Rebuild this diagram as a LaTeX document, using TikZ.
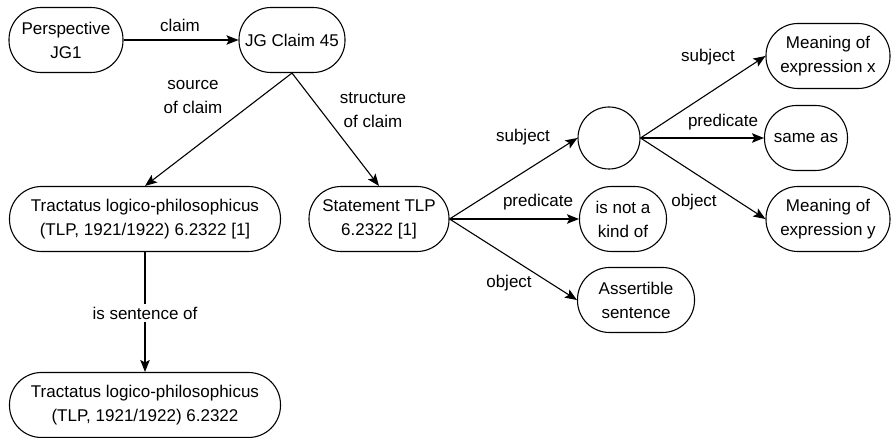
\documentclass[tikz,border=0pt]{standalone}
\usepackage{fontspec}
\setmainfont{Liberation Sans}
\usetikzlibrary{arrows.meta}
\begin{document}
\begin{tikzpicture}[x=1pt,y=-1pt,
  every node/.style={font=\fontsize{17}{24}\selectfont},
  box/.style={draw,line width=1.1pt,rounded corners=32pt,align=center,inner sep=0pt,minimum height=65pt},
  blank/.style={draw,line width=1.1pt,circle,inner sep=0pt,minimum size=62pt},
  lbl/.style={align=center,inner sep=1pt},
  link/.style={line width=1.1pt,-{Stealth[length=12pt,width=9.5pt,inset=2.5pt]}}]
\useasboundingbox (0,0) rectangle (892,438);

% nodes
\node[box,minimum width=114pt] (p) at (66,40) {Perspective\\JG1};
\node[box,minimum width=106pt] (c) at (292,40) {JG Claim 45};
\node[box,minimum width=271pt] (t1) at (145,219) {Tractatus logico-philosophicus\\(TLP, 1921/1922) 6.2322 [1]};
\node[box,minimum width=140pt] (s) at (379,219) {Statement TLP\\6.2322 [1]};
\node[box,minimum width=271pt] (t2) at (145,405) {Tractatus logico-philosophicus\\(TLP, 1921/1922) 6.2322};
\node[blank] (o) at (609,138) {};
\node[box,minimum width=124pt] (mx) at (828,56) {Meaning of\\expression x};
\node[box,minimum width=83pt] (same) at (806,138) {same as};
\node[box,minimum width=124pt] (my) at (828,219) {Meaning of\\expression y};
\node[box,minimum width=87pt] (nk) at (623,219) {is not a\\kind of};
\node[box,minimum width=117pt] (as) at (636,300) {Assertible\\sentence};

% connectors
\draw[link] (p) -- (c);
\draw[link] (c.south) -- (t1.north);
\draw[link] (c.south) -- (s.north);
\draw[link] (t1) -- (t2);
\draw[link] (s.east) -- (o.west);
\draw[link] (s.east) -- (nk.west);
\draw[link] (s.east) -- (as.west);
\draw[link] (o.east) -- (mx.west);
\draw[link] (o.east) -- (same.west);
\draw[link] (o.east) -- (my.west);

% labels
\node[lbl] (l1) at (180,25) {claim};
\node[lbl] (l2) at (193,97) {source\\of claim};
\node[lbl] (l3) at (373,110) {structure\\of claim};
\node[lbl,fill=white,inner sep=3pt] (l4) at (145,313) {is sentence of};
\node[lbl] (l5) at (523,137) {subject};
\node[lbl] (l6) at (538,202) {predicate};
\node[lbl] (l7) at (509,283) {object};
\node[lbl] (l8) at (708,57) {subject};
\node[lbl] (l9) at (723,122) {predicate};
\node[lbl] (l10) at (694,202) {object};
\end{tikzpicture}
\end{document}
